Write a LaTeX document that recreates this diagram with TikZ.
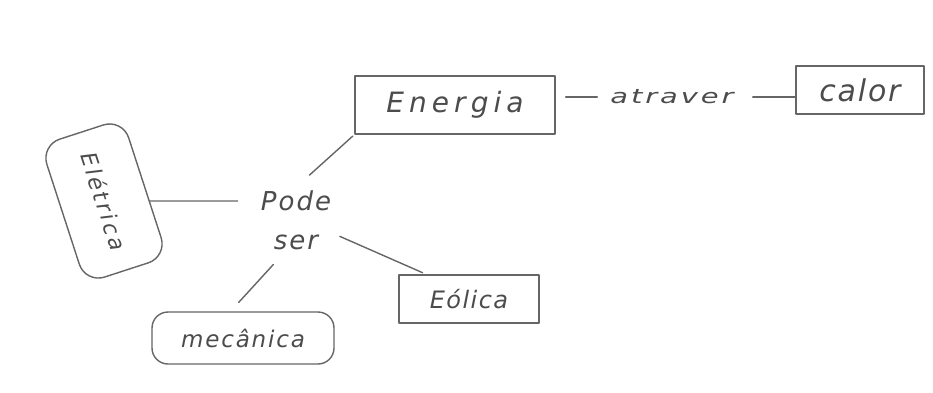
\documentclass[tikz,border=0pt]{standalone}
\usepackage{fontspec}
\setmainfont{DejaVu Sans}
\newcommand{\hand}[2]{\fontsize{#1}{#1}\selectfont\itshape\addfontfeatures{LetterSpace=#2}}
\begin{document}
\begin{tikzpicture}[x=1pt,y=-1pt,
  ink/.style={draw=black!60, line width=1.4pt, line cap=round, line join=round},
  concept/.style={ink, text=black!70, inner sep=6pt},
  word/.style={text=black!70, inner sep=3pt},
  link/.style={ink}]
  \useasboundingbox[fill=white] (0,0) rectangle (933,392);

  % concepts
  \node[concept, minimum width=200, minimum height=58, font=\hand{28}{18}]
    (energia) at (455,105) {Energia};
  \node[concept, minimum width=128, minimum height=48, font=\hand{30}{6}]
    (calor) at (860,90) {calor};
  \node[concept, rounded corners=20, rotate=-72, minimum width=145, minimum height=86,
    font=\hand{22}{12}]
    (eletrica) at (104,201) {Elétrica};
  \node[concept, minimum width=140, minimum height=48, font=\hand{24}{6}]
    (eolica) at (469,299) {Eólica};
  \node[concept, rounded corners=16, minimum width=182, minimum height=52, font=\hand{23}{8}]
    (mecanica) at (243,338) {mecânica};

  % linking words
  \node[word, align=center, font=\hand{26}{8}\linespread{1.5}\selectfont]
    (pode) at (296,220) {Pode\\ser};
  \node[word, font=\hand{20}{10}]
    (atr) at (672,97) {\scalebox{1.45}[1]{atraver}};

  % connectors
  \draw[link, shorten <=10, shorten >=10] (energia.east |- atr.west) -- (atr.west);
  \draw[link, shorten <=16] (atr.east) -- (calor.west |- atr.east);
  \draw[link, shorten >=20] (eletrica) -- (pode.west |- eletrica);
  \draw[link, shorten <=18, shorten >=2] (pode.north) -- (energia.south west);
  \draw[link, shorten <=6, shorten >=4] (pode.-20) -- (eolica.150);
  \draw[link, shorten <=16, shorten >=12] (pode.250) -- (mecanica.115);
\end{tikzpicture}
\end{document}
